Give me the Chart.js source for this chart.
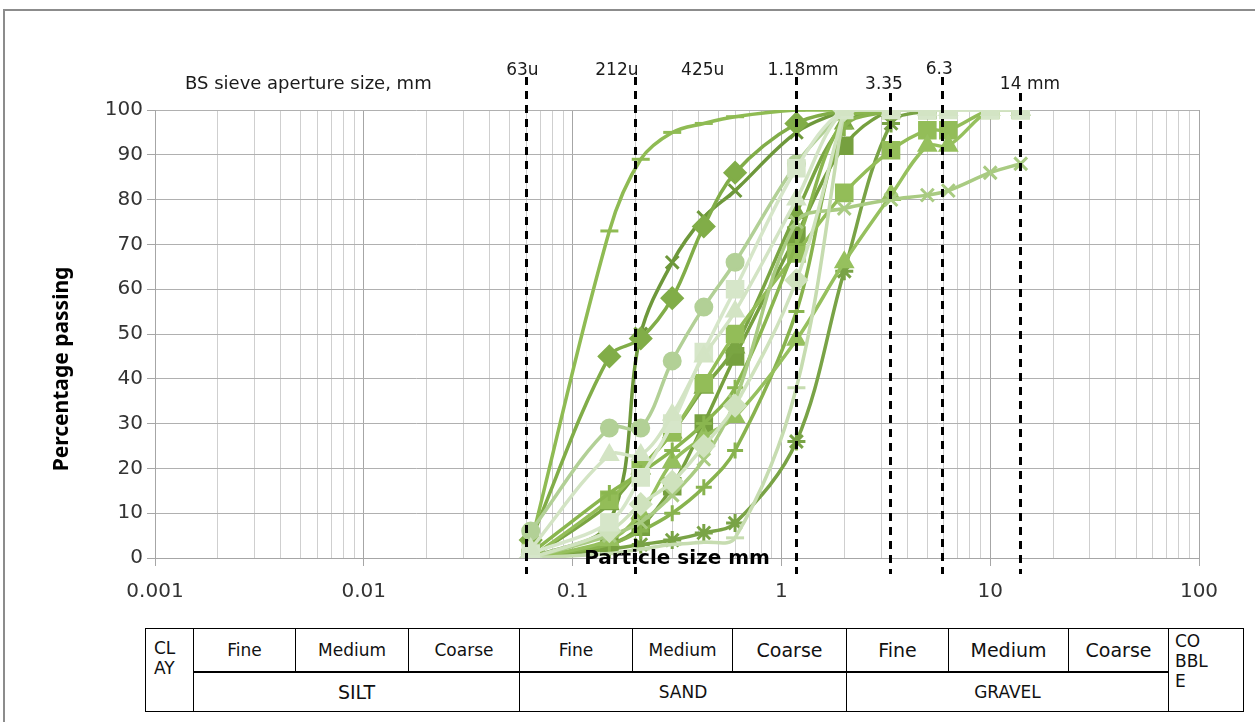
<!DOCTYPE html>
<html>
<head>
<meta charset="utf-8">
<script src="https://cdn.jsdelivr.net/npm/chart.js@4.4.1/dist/chart.umd.min.js"></script>
<style>
  body { margin: 0; background: #fff; width: 1255px; height: 722px; overflow: hidden; position: relative; }
  #frame { position: absolute; left: 3px; top: 9px; width: 1270px; height: 730px; border-top: 2px solid #8c8c8c; border-left: 2px solid #8c8c8c; }
  #chartBox { position: absolute; left: 0; top: 0; width: 1255px; height: 620px; }
  #cls { position: absolute; left: 145px; top: 628px; border-collapse: collapse; table-layout: fixed; width: 1098px; }
  #cls td { border: 1px solid #000; text-align: center; vertical-align: middle; padding: 0; color: #111;
            font: 17px "DejaVu Sans", sans-serif; }
  #cls tr.r1 td { height: 42px; }
  #cls tr.r2 td { height: 38px; border-top: 2px solid #000; }
  #cls td.big { font-size: 19px; }
  #cls td.tl { text-align: left; vertical-align: top; line-height: 20px; }
</style>
</head>
<body>
<div id="frame"></div>
<div id="chartBox"><canvas id="psd" width="1255" height="620"></canvas></div>
<table id="cls">
  <colgroup>
    <col style="width:48px"><col style="width:102px"><col style="width:113px"><col style="width:111px">
    <col style="width:113px"><col style="width:100px"><col style="width:114px"><col style="width:102px">
    <col style="width:120px"><col style="width:100px"><col style="width:75px">
  </colgroup>
  <tr class="r1">
    <td rowspan="2" class="tl" style="padding:9px 0 0 8px">CL<br>AY</td>
    <td>Fine</td><td>Medium</td><td>Coarse</td>
    <td>Fine</td><td>Medium</td><td class="big">Coarse</td>
    <td class="big">Fine</td><td class="big">Medium</td><td class="big">Coarse</td>
    <td rowspan="2" class="tl" style="padding:2px 0 0 6px">CO<br>BBL<br>E</td>
  </tr>
  <tr class="r2">
    <td colspan="3" style="font-size:19px">SILT</td>
    <td colspan="3">SAND</td>
    <td colspan="3">GRAVEL</td>
  </tr>
</table>
<script>
// Tamices (mm) y etiquetas
const sieveSizes = [0.063, 0.15, 0.212, 0.3, 0.425, 0.6, 1.18, 2, 3.35, 5, 6.3, 10, 14];
const xTickLabels = ['0.001', '0.01', '0.1', '1', '10', '100'];
const sieveLinePositions = [0.06, 0.2, 1.17, 3.3, 5.9, 13.9];
const sieveLabels = ['63u', '212u', '425u', '1.18mm', '3.35', '6.3', '14 mm'];

// % que pasa, una lista por muestra (mismo orden que sieveSizes)
const sA = [2, 23, 23, 32, 45, 55, 80, 100, 100, 100, 100, 100, 100];
const sB = [1, 8, 18, 30, 46, 60, 87, 100, 100, 100, 100, 100, 100];
const sC = [0, 6, 12, 17, 25, 34, 62, 100];
const sD = [0, 1, 2, 3, 3.5, 4.5, 38, 100];
const sE = [6, 29, 29, 44, 56, 66, 88, 100];
const sF = [0, 5, 8, 14, 22, 35, 75, 78, 80, 81, 82, 86, 88];
const sG = [3, 73, 89, 95, 97, 98.5, 100, 100];
const sH = [1, 14.5, 19, 24, 30, 38, 70, 98, 100];
const sI = [0, 4, 10, 21.4, 27, 31.5, 48.7, 66, 81, 92, 92, 100, 100];
const sJ = [0, 13, 20, 28, 39, 50, 68, 81.5, 91, 95.5, 95.5, 100, 100];
const sK = [4, 45, 49, 58, 74, 86, 97, 100];
const sL = [0, 3, 6, 10, 15.8, 24, 55, 96, 100];
const sM = [0, 12, 20, 28, 38, 47, 77, 97, 100];
const sN = [0, 3, 7, 16, 30, 45, 72, 92, 100, 100];
const sO = [0, 2, 3, 4, 5.6, 7.8, 26, 64, 97, 100];
const sP = [0, 8, 50, 66, 76, 82, 95, 100];

const seriesValues = [sA, sB, sC, sD, sE, sF, sG, sH, sI, sJ, sK, sL, sM, sN, sO, sP];
const seriesColors = ['#d3e4c4', '#d6e6c9', '#cfe2bd', '#c6dcb0', '#b2d096', '#a9cb82', '#8fbb53',
                      '#8ab64f', '#96c05e', '#93bd58', '#81ad48', '#88b34e', '#7aa543', '#76a03f', '#79a346', '#6e983b'];
const seriesMarkers = ['triangle', 'rect', 'rectRot', 'line', 'circle', 'crossRot', 'line', 'cross',
                       'triangle', 'rect', 'rectRot', 'cross', 'triangle', 'rect', 'star', 'crossRot'];
const markerRadius = { triangle: 9, rect: 11, rectRot: 10, line: 9, circle: 8, crossRot: 9, cross: 8, star: 9 };

function isDecade(v) {
    const l = Math.log10(v);
    return Math.abs(l - Math.round(l)) < 1e-9;
}

// Lineas de la rejilla logaritmica: 1..9 por decada
const gridValues = [];
for (let e = -3; e <= 1; e++) {
    for (let k = 1; k <= 9; k++) gridValues.push(parseFloat((k * Math.pow(10, e)).toPrecision(6)));
}
gridValues.push(100);

const datasets = seriesValues.map((vals, i) => ({
    label: 'Muestra ' + (i + 1),
    data: vals.map((v, j) => ({ x: sieveSizes[j], y: v })),
    borderColor: seriesColors[i],
    backgroundColor: seriesColors[i],
    pointStyle: seriesMarkers[i],
    pointRadius: markerRadius[seriesMarkers[i]],
    pointBorderWidth: 3,
    borderWidth: 3.5,
    tension: 0.35,
    fill: false
}));

// Textos y lineas discontinuas de los tamices
const overlay = {
    id: 'overlay',
    afterDatasetsDraw(chart) {
        const { ctx, scales: { x } } = chart;
        const lineTops = [77, 77, 77, 93, 77, 93];
        ctx.save();
        ctx.strokeStyle = '#000';
        ctx.lineWidth = 3;
        ctx.setLineDash([8, 6]);
        sieveLinePositions.forEach((s, i) => {
            const px = Math.round(x.getPixelForValue(s)) + 0.5;
            ctx.beginPath();
            ctx.moveTo(px, lineTops[i]);
            ctx.lineTo(px, 574);
            ctx.stroke();
        });
        ctx.setLineDash([]);

        ctx.fillStyle = '#1a1a1a';
        ctx.font = '17px "DejaVu Sans"';
        ctx.textBaseline = 'alphabetic';
        ctx.textAlign = 'center';
        const labelAt = [0.0575, 0.163, 0.42, 1.27, 3.1, 5.7, 15.5];
        const labelY = [75, 75, 75, 75, 89, 74, 89];
        sieveLabels.forEach((t, i) => ctx.fillText(t, x.getPixelForValue(labelAt[i]), labelY[i]));

        ctx.textAlign = 'left';
        ctx.font = '18px "DejaVu Sans"';
        ctx.fillText('BS sieve aperture size, mm', 185, 89);

        ctx.fillStyle = '#000';
        ctx.font = 'bold 20px "DejaVu Sans"';
        ctx.textAlign = 'center';
        ctx.textBaseline = 'middle';
        ctx.fillText('Particle size mm', 677, 559);

        ctx.translate(62, 369);
        ctx.rotate(-Math.PI / 2);
        ctx.font = 'bold 21px "Noto Sans"';
        ctx.fillText('Percentage passing', 0, 0);
        ctx.restore();
    }
};

Chart.defaults.font.family = '"DejaVu Sans", sans-serif';

new Chart(document.getElementById('psd'), {
    type: 'line',
    data: { datasets: datasets },
    plugins: [overlay],
    options: {
        responsive: false,
        animation: false,
        devicePixelRatio: 1,
        layout: { padding: { top: 110, right: 56, left: 0, bottom: 0 } },
        plugins: { legend: { display: false }, tooltip: { enabled: false } },
        scales: {
            x: {
                type: 'logarithmic',
                min: 0.001,
                max: 100,
                afterBuildTicks: (scale) => {
                    scale.ticks = gridValues.map(v => ({ value: v, major: isDecade(v) }));
                },
                afterFit: (scale) => { scale.height = 62; },
                border: { color: '#a6a6a6' },
                grid: {
                    color: (c) => isDecade(c.tick.value) ? '#a6a6a6' : '#cfcfcf',
                    tickColor: (c) => isDecade(c.tick.value) ? '#a6a6a6' : 'rgba(0,0,0,0)',
                    tickLength: 8
                },
                ticks: {
                    autoSkip: false,
                    maxRotation: 0,
                    padding: 14,
                    color: '#333',
                    font: { size: 20 },
                    callback: (v) => isDecade(v) ? xTickLabels[Math.round(Math.log10(v)) + 3] : ''
                }
            },
            y: {
                min: 0,
                max: 100,
                afterFit: (scale) => { scale.width = 155; },
                border: { color: '#a6a6a6' },
                grid: { color: '#b0b0b0', tickColor: '#a6a6a6', tickLength: 8 },
                ticks: { stepSize: 10, padding: 4, color: '#333', font: { size: 20 } }
            }
        }
    }
});
</script>
</body>
</html>
